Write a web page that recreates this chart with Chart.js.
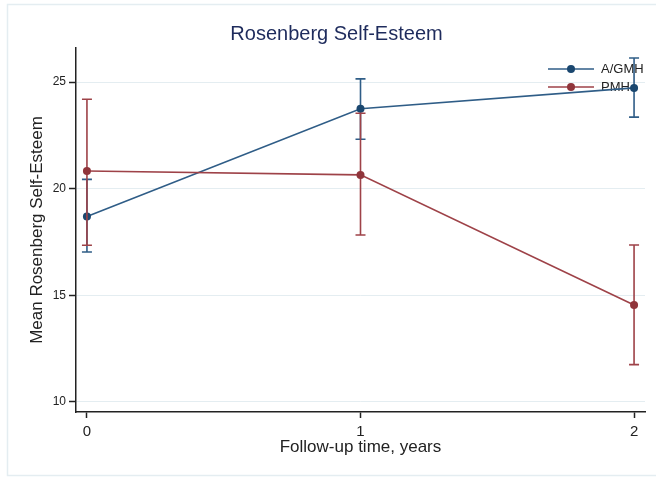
<!DOCTYPE html>
<html>
<head>
<meta charset="utf-8">
<title>Rosenberg Self-Esteem</title>
<script src="https://cdn.jsdelivr.net/npm/chart.js@4.4.1/dist/chart.umd.min.js"></script>
<style>
  html, body { margin: 0; padding: 0; background: #fff; }
  canvas { display: block; }
</style>
</head>
<body>
<canvas id="chart" width="656" height="477"></canvas>
<script>
// values (mean and 95% CI ends)
const years = [0, 1, 2]
const agmhMean = [18.7, 23.75, 24.73]
const agmhLow = [17.03, 22.32, 23.36]
const agmhHigh = [20.44, 25.15, 26.13]
const pmhMean = [20.83, 20.65, 14.55]
const pmhLow = [17.35, 17.83, 11.75]
const pmhHigh = [24.2, 23.54, 17.36]

const seriesNames = ['A/GMH', 'PMH']
const xTicks = [0, 1, 2]
const yTicks = [10, 15, 20, 25]

const BLUE = '#1a476f'
const BLUE_LINE = '#2f5d87'
const RED = '#90353b'
const RED_LINE = '#9e4248'
const GRID = '#e4edf1'
const INK = '#222'
const FONT = "'Liberation Sans', Arial, sans-serif"

const toPoints = vals => years.map((x, i) => ({ x, y: vals[i] }))

// light frame around the whole graph
const frame = {
  id: 'frame',
  beforeDraw(chart) {
    const ctx = chart.ctx
    ctx.save()
    ctx.fillStyle = '#fff'
    ctx.fillRect(0, 0, chart.width, chart.height)
    ctx.strokeStyle = GRID
    ctx.lineWidth = 1.5
    ctx.strokeRect(7.5, 4.5, chart.width + 10, chart.height - 6)
    ctx.restore()
  }
}

// capped error bars, drawn under each series' line
const errorBars = {
  id: 'errorBars',
  beforeDatasetDraw(chart, args) {
    const ds = chart.data.datasets[args.index]
    const xs = chart.scales.x, ys = chart.scales.y
    const ctx = chart.ctx
    ctx.save()
    ctx.strokeStyle = ds.borderColor
    ctx.lineWidth = 1.6
    ds.data.forEach((p, i) => {
      const px = xs.getPixelForValue(p.x)
      const top = ys.getPixelForValue(ds.errHigh[i])
      const bot = ys.getPixelForValue(ds.errLow[i])
      ctx.beginPath()
      ctx.moveTo(px, top); ctx.lineTo(px, bot)
      ctx.moveTo(px - 5, top); ctx.lineTo(px + 5, top)
      ctx.moveTo(px - 5, bot); ctx.lineTo(px + 5, bot)
      ctx.stroke()
    })
    ctx.restore()
  }
}

// legend sits inside the plot, under the data
const insideLegend = {
  id: 'insideLegend',
  beforeDatasetsDraw(chart) {
    const ctx = chart.ctx
    const area = chart.chartArea
    ctx.save()
    chart.data.datasets.slice().sort((a, b) => a.legendRow - b.legendRow).forEach((ds, i) => {
      const y = area.top + 21 + i * 18
      const x0 = area.right - 97
      ctx.strokeStyle = ds.borderColor
      ctx.lineWidth = 1.6
      ctx.beginPath()
      ctx.moveTo(x0, y); ctx.lineTo(x0 + 46, y)
      ctx.stroke()
      ctx.fillStyle = ds.pointBackgroundColor
      ctx.beginPath()
      ctx.arc(x0 + 23, y, 4, 0, Math.PI * 2)
      ctx.fill()
      ctx.fillStyle = INK
      ctx.font = '13px ' + FONT
      ctx.textBaseline = 'middle'
      ctx.textAlign = 'left'
      ctx.fillText(ds.label, x0 + 53, y)
    })
    ctx.restore()
  }
}

new Chart(document.getElementById('chart'), {
  type: 'line',
  data: {
    datasets: [
      {
        label: seriesNames[1], data: toPoints(pmhMean), errLow: pmhLow, errHigh: pmhHigh,
        borderColor: RED_LINE, pointBackgroundColor: RED, backgroundColor: RED, order: 0, legendRow: 1
      },
      {
        label: seriesNames[0], data: toPoints(agmhMean), errLow: agmhLow, errHigh: agmhHigh,
        borderColor: BLUE_LINE, pointBackgroundColor: BLUE, backgroundColor: BLUE, order: 1, legendRow: 0
      }
    ]
  },
  options: {
    responsive: false,
    animation: false,
    layout: { padding: { left: 28, right: 11, top: 0, bottom: 0 } },
    elements: {
      line: { borderWidth: 1.6, tension: 0 },
      point: { radius: 4, borderWidth: 0, hoverRadius: 4 }
    },
    plugins: {
      legend: { display: false },
      tooltip: { enabled: false },
      title: {
        display: true,
        text: 'Rosenberg Self-Esteem',
        color: '#1e2b5c',
        font: { family: FONT, size: 20, weight: 'normal' },
        padding: { top: 22, bottom: 2 }
      }
    },
    scales: {
      x: {
        type: 'linear',
        min: -0.04,
        max: 2.04,
        afterBuildTicks: s => { s.ticks = xTicks.map(v => ({ value: v })) },
        afterFit: s => { s.height = 65 },
        border: { color: INK, width: 1.5 },
        grid: { drawOnChartArea: false, drawTicks: true, tickLength: 6, tickColor: INK, tickWidth: 1.5 },
        ticks: { color: INK, padding: 5, font: { family: FONT, size: 15 } },
        title: {
          display: true,
          text: 'Follow-up time, years',
          color: INK,
          font: { family: FONT, size: 17 },
          padding: { top: 0, bottom: 19 }
        }
      },
      y: {
        min: 9.53,
        max: 26.6,
        afterBuildTicks: s => { s.ticks = yTicks.map(v => ({ value: v })) },
        afterFit: s => { s.width = 48 },
        border: { color: INK, width: 1.5 },
        grid: { color: GRID, lineWidth: 1, drawTicks: true, tickLength: 7, tickColor: INK, tickWidth: 1.5 },
        ticks: { color: INK, padding: 3, font: { family: FONT, size: 12 } },
        title: {
          display: true,
          text: 'Mean Rosenberg Self-Esteem',
          color: INK,
          font: { family: FONT, size: 17 },
          padding: { top: -1, bottom: 0 }
        }
      }
    }
  },
  plugins: [frame, errorBars, insideLegend]
})
</script>
</body>
</html>
